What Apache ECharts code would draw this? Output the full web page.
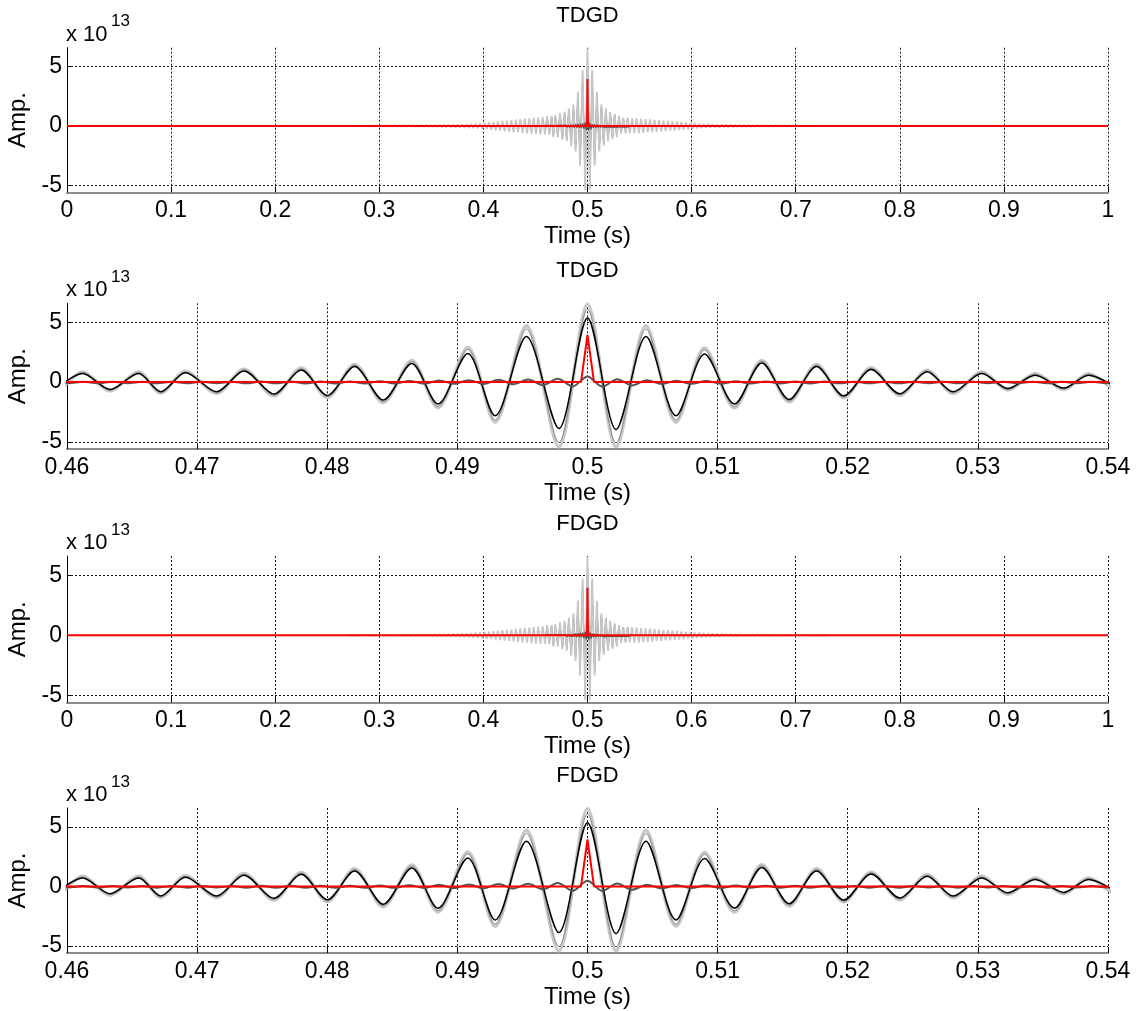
<!DOCTYPE html>
<html>
<head>
<meta charset="utf-8">
<script src="https://cdn.jsdelivr.net/npm/echarts@6/dist/echarts.min.js"></script>
<style>
  html, body { margin: 0; padding: 0; background: #fff; }
  #chart { width: 1140px; height: 1011px; }
</style>
</head>
<body>
<div id="chart"></div>
<script>
// Amplitudes are in units of 1e13 (see the "x 10^13" multiplier on each panel).

// Extremum times (s) of the main oscillation around the 0.5 s event, k = -19 .. 19
const coreTimes = [
  0.4591, 0.4612, 0.4633, 0.4655, 0.4672, 0.4691, 0.4715, 0.4736, 0.4759, 0.4780,
  0.4800, 0.4821, 0.4843, 0.4865, 0.4885, 0.4908, 0.4929, 0.4953, 0.4978,
  0.5000,
  0.5022, 0.5045, 0.5068, 0.5090, 0.5113, 0.5134, 0.5155, 0.5176, 0.5197, 0.5218,
  0.5240, 0.5261, 0.5281, 0.5303, 0.5323, 0.5344, 0.5366, 0.5385, 0.5407
];

// Light grey trace, extremum values at coreTimes
const grayCore = [
  -0.72, 0.85, -0.74, 0.85, -0.92, 0.90, -0.94, 1.08, -1.15, 1.18,
  -1.28, 1.48, -1.70, 1.80, -2.15, 2.90, -3.35, 4.72, -5.42,
  6.53,
  -5.42, 4.72, -3.35, 2.85, -2.15, 1.82, -1.65, 1.48, -1.30, 1.20,
  -1.12, 1.00, -0.94, 0.85, -0.66, 0.70, -0.62, 0.70, -0.60
];

// Mid grey trace, extremum values at coreTimes
const midCore = [
  -0.68, 0.80, -0.69, 0.80, -0.88, 0.86, -0.89, 1.03, -1.10, 1.12,
  -1.22, 1.42, -1.62, 1.72, -2.04, 2.75, -3.18, 4.45, -5.05,
  6.10,
  -5.10, 4.45, -3.18, 2.70, -2.05, 1.75, -1.58, 1.42, -1.25, 1.15,
  -1.06, 0.95, -0.89, 0.80, -0.62, 0.66, -0.58, 0.66, -0.56
];

// Black trace, extremum values at coreTimes
const blackCore = [
  -0.60, 0.72, -0.61, 0.72, -0.80, 0.78, -0.80, 0.94, -1.00, 1.02,
  -1.12, 1.30, -1.50, 1.56, -1.83, 2.40, -2.82, 3.81, -3.88,
  5.36,
  -3.97, 3.81, -2.82, 2.35, -1.83, 1.60, -1.45, 1.30, -1.15, 1.05,
  -0.98, 0.86, -0.81, 0.72, -0.53, 0.58, -0.50, 0.58, -0.48
];

// Light grey tails: further extrema, listed outward from the core, one every HALF_PERIOD
const HALF_PERIOD = 0.00215;
const grayTailLeft = [
  0.74, -0.72, 0.71, -0.69, 0.67, -0.66, 0.64,
  -0.62, 0.61, -0.59, 0.57, -0.55, 0.53, -0.51,
  0.49, -0.47, 0.45, -0.44, 0.42, -0.40, 0.38,
  -0.36, 0.33, -0.32, 0.30, -0.28, 0.26, -0.24,
  0.22, -0.21, 0.20, -0.19, 0.17, -0.17, 0.15,
  -0.15, 0.14, -0.13, 0.13, -0.12, 0.11, -0.11,
  0.10, -0.10, 0.09, -0.09, 0.09, -0.08, 0.08, -0.08,
  0.07, -0.07, 0.07, -0.07, 0.06, -0.06, 0.06, -0.06, 0.05, -0.05,
  0.05, -0.05, 0.05, -0.05, 0.04, -0.04, 0.04, -0.04, 0.04, -0.04,
  0.04, -0.03, 0.03, -0.03, 0.03, -0.03, 0.03, -0.03, 0.03, -0.02,
  0.03, -0.02, 0.02, -0.02, 0.02, -0.02, 0.02, -0.02
];
const grayTailRight = [
  0.66, -0.63, 0.64, -0.61, 0.60, -0.58, 0.57,
  -0.55, 0.54, -0.52, 0.51, -0.49, 0.48, -0.46,
  0.45, -0.43, 0.42, -0.40, 0.39, -0.37, 0.36,
  -0.34, 0.32, -0.31, 0.29, -0.27, 0.26, -0.24,
  0.23, -0.21, 0.20, -0.18, 0.17, -0.16, 0.16,
  -0.14, 0.14, -0.13, 0.12, -0.12, 0.11, -0.10,
  0.10, -0.10, 0.09, -0.09, 0.08, -0.08, 0.08, -0.07,
  0.07, -0.07, 0.07, -0.06, 0.06, -0.06, 0.06, -0.05, 0.05, -0.05,
  0.05, -0.05, 0.04, -0.04, 0.04, -0.04, 0.04, -0.04, 0.04, -0.03,
  0.03, -0.03, 0.03, -0.03, 0.03, -0.03, 0.03, -0.02, 0.03, -0.02,
  0.02, -0.02, 0.02, -0.02, 0.02, -0.02, 0.02, -0.02
];

// Dark grey residual: extrema every DARK_STEP, centred on 0.5 s (j = -36 .. 36)
const DARK_STEP = 0.00114;
const darkValues = [
  0.04, -0.09, 0.03, -0.10, 0.04, -0.09, 0.04, -0.10, 0.03, -0.10,
  0.04, -0.09, 0.04, -0.10, 0.05, -0.10, 0.05, -0.11, 0.06, -0.11,
  0.06, -0.12, 0.08, -0.12, 0.10, -0.13, 0.14, -0.14, 0.16, -0.16,
  0.20, -0.18, 0.22, -0.24, 0.28, -0.36,
  0.47,
  -0.38, 0.25, -0.28, 0.15, -0.16, 0.12, -0.14, 0.09, -0.13, 0.07,
  -0.12, 0.06, -0.11, 0.05, -0.11, 0.05, -0.10, 0.04, -0.10, 0.04,
  -0.10, 0.04, -0.09, 0.04, -0.10, 0.03, -0.09, 0.04, -0.09, 0.03,
  -0.10, 0.04, -0.09, 0.03, -0.09, 0.04
];

// Red reference trace: flat with a single spike at 0.5 s
const redTimes  = [0, 0.4995, 0.5, 0.5005, 1];
const redValues = [0, 0, 3.95, 0, 0];

// Panels: full record and zoom around the event, for each method
const panelTitles = ['TDGD', 'TDGD', 'FDGD', 'FDGD'];
const xRanges = [[0, 1], [0.46, 0.54], [0, 1], [0.46, 0.54]];
const xSteps = [0.1, 0.01, 0.1, 0.01];
const yRange = [-5.6, 6.6];
const yTicks = [-5, 0, 5];
const xName = 'Time (s)';
const yName = 'Amp.';

// ---- build traces ----
const grayTrace = [];
for (let i = grayTailLeft.length - 1; i >= 0; i--) {
  grayTrace.push([coreTimes[0] - (i + 1) * HALF_PERIOD, grayTailLeft[i]]);
}
coreTimes.forEach((t, i) => grayTrace.push([t, grayCore[i]]));
grayTailRight.forEach((v, i) => {
  grayTrace.push([coreTimes[coreTimes.length - 1] + (i + 1) * HALF_PERIOD, v]);
});
const midTrace = coreTimes.map((t, i) => [t, midCore[i]]);
const blackTrace = coreTimes.map((t, i) => [t, blackCore[i]]);
const darkMid = (darkValues.length - 1) / 2;
const darkTrace = darkValues.map((v, j) => [0.5 + (j - darkMid) * DARK_STEP, v]);
const redTrace = redTimes.map((t, i) => [t, redValues[i]]);

// ---- layout ----
const FONT = '"Liberation Sans", Arial, Helvetica, sans-serif';
const PLOT_LEFT = 67;
const PLOT_RIGHT = 32;
const PLOT_WIDTH = 1140 - PLOT_LEFT - PLOT_RIGHT;
const panels = [
  { top: 47.7, height: 144.6 },
  { top: 303.3, height: 145.7 },
  { top: 556.0, height: 146.5 },
  { top: 808.0, height: 145.0 }
];
const gridDash = { color: '#1a1a1a', width: 1, type: [2, 2] };

const grids = [], xAxes = [], yAxes = [], series = [], graphics = [];

panels.forEach((p, i) => {
  const zoom = xSteps[i] < 0.05;
  grids.push({ left: PLOT_LEFT, width: PLOT_WIDTH, top: p.top, height: p.height,
    containLabel: false, outerBoundsMode: 'none' });

  xAxes.push({
    type: 'value', gridIndex: i, min: xRanges[i][0], max: xRanges[i][1], interval: xSteps[i],
    axisLine: { show: true, onZero: false, lineStyle: { color: '#8c8c8c', width: 2 } },
    axisTick: { show: true, inside: true, length: 6, lineStyle: { color: '#000', width: 1 } },
    axisLabel: { margin: 7, fontSize: 23, color: '#000', fontFamily: FONT,
      showMinLabel: true, showMaxLabel: true },
    splitLine: { show: true, lineStyle: gridDash },
    name: xName, nameLocation: 'middle', nameGap: 32,
    nameTextStyle: { fontSize: 24, color: '#000', fontFamily: FONT }
  });

  yAxes.push({
    type: 'value', gridIndex: i, min: yRange[0], max: yRange[1],
    axisLine: { show: true, onZero: false, lineStyle: { color: '#000', width: 1 } },
    axisTick: { show: true, inside: true, length: 6, customValues: yTicks,
      lineStyle: { color: '#000', width: 1 } },
    axisLabel: { margin: 5, fontSize: 23, color: '#000', fontFamily: FONT, customValues: yTicks },
    splitLine: { show: false },
    name: yName, nameLocation: 'middle', nameGap: 33, nameRotate: 90,
    nameTextStyle: { fontSize: 24, color: '#000', fontFamily: FONT }
  });

  const base = { type: 'line', xAxisIndex: i, yAxisIndex: i, symbol: 'none', showSymbol: false,
    animation: false, silent: true, clip: true };
  const sm = zoom ? 0.3 : false;

  // horizontal dotted grid at the labelled amplitudes
  series.push(Object.assign({}, base, {
    name: 'grid', data: [], z: 1,
    markLine: { silent: true, symbol: 'none', z: 1, animation: false, label: { show: false },
      lineStyle: gridDash, data: yTicks.filter(v => v !== 0).map(v => ({ yAxis: v })) }
  }));

  if (zoom) {
    series.push(Object.assign({}, base, { data: grayTrace, smooth: sm, z: 2,
      lineStyle: { color: '#c8c8c8', width: 3.5 } }));
    series.push(Object.assign({}, base, { data: midTrace, smooth: sm, z: 3,
      lineStyle: { color: '#8a8a8a', width: 1 } }));
    series.push(Object.assign({}, base, { data: blackTrace, smooth: sm, z: 4,
      lineStyle: { color: '#000', width: 1.5 } }));
    series.push(Object.assign({}, base, { data: darkTrace, smooth: 0.3, z: 5,
      lineStyle: { color: '#555', width: 2 } }));
  } else {
    series.push(Object.assign({}, base, { data: blackTrace, z: 2,
      lineStyle: { color: '#000', width: 1 } }));
    series.push(Object.assign({}, base, { data: midTrace, z: 3,
      lineStyle: { color: '#8a8a8a', width: 1 } }));
    series.push(Object.assign({}, base, { data: grayTrace, z: 4,
      lineStyle: { color: '#c6c6c6', width: 1.8 } }));
    series.push(Object.assign({}, base, { data: darkTrace, z: 5,
      lineStyle: { color: '#505050', width: 1.2 } }));
  }
  series.push(Object.assign({}, base, { data: redTrace, z: 6,
    lineStyle: { color: '#ff0000', width: 2 } }));

  // panel title and the amplitude multiplier
  graphics.push({ type: 'text', x: PLOT_LEFT + PLOT_WIDTH / 2, y: p.top - 32, silent: true,
    style: { text: panelTitles[i], fill: '#000', font: '22px ' + FONT,
      textAlign: 'center', textVerticalAlign: 'middle', align: 'center', verticalAlign: 'middle' } });
  graphics.push({ type: 'text', x: PLOT_LEFT - 1, y: p.top - 13, silent: true,
    style: { text: 'x 10', fill: '#000', font: '22px ' + FONT,
      textAlign: 'left', textVerticalAlign: 'middle', align: 'left', verticalAlign: 'middle' } });
  graphics.push({ type: 'text', x: PLOT_LEFT + 44, y: p.top - 26, silent: true,
    style: { text: '13', fill: '#000', font: '17px ' + FONT,
      textAlign: 'left', textVerticalAlign: 'middle', align: 'left', verticalAlign: 'middle' } });
});

const chart = echarts.init(document.getElementById('chart'), null, { renderer: 'canvas' });
chart.setOption({
  backgroundColor: '#fff',
  animation: false,
  grid: grids,
  xAxis: xAxes,
  yAxis: yAxes,
  series: series,
  graphic: graphics
});
</script>
</body>
</html>
